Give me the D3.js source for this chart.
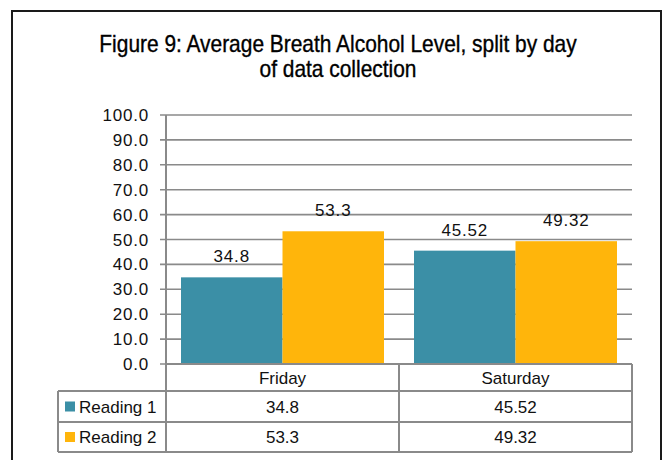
<!DOCTYPE html>
<html lang="en">
<head>
<meta charset="utf-8">
<title>Figure 9</title>
<script src="https://d3js.org/d3.v7.min.js"></script>
<style>
  * { margin:0; padding:0; box-sizing:border-box; }
  body { background:#fff; width:665px; height:460px; overflow:hidden; }
  svg { display:block; }
  .title { font-family:'Liberation Sans',Arial,sans-serif; font-size:23px; fill:#000; stroke:#000; stroke-width:0.35px; }
  .tick-label, .val-label { font-family:'Liberation Sans',Arial,sans-serif; font-size:17px; fill:#111; letter-spacing:0.8px; }
  .tbl { font-family:'Liberation Sans',Arial,sans-serif; font-size:17px; fill:#111; }
</style>
</head>
<body>
<div id="chart"></div>
<script>
const days = ['Friday', 'Saturday'];
const seriesNames = ['Reading 1', 'Reading 2'];
const reading1 = [34.8, 45.52];
const reading2 = [53.3, 49.32];
const yTicks = [0, 10, 20, 30, 40, 50, 60, 70, 80, 90, 100];
const colors = ['#3B8FA6', '#FFB50B'];

const W = 665, H = 460;
const svg = d3.select('#chart').append('svg').attr('width', W).attr('height', H);

// outer frame
svg.append('rect').attr('x', 12).attr('y', 11).attr('width', 649).attr('height', 470)
  .attr('fill', 'none').attr('stroke', '#1a1a1a').attr('stroke-width', 2);

// title, squeezed a little to mimic the condensed face
const titleLines = [
  { t: 'Figure 9: Average Breath Alcohol Level, split by day', y: 52 },
  { t: 'of data collection', y: 77 }
];
const cx = 338;
titleLines.forEach(l => {
  svg.append('text').attr('class', 'title').attr('text-anchor', 'middle')
    .attr('transform', `translate(${cx},${l.y}) scale(0.91,1)`)
    .text(l.t);
});

const plotL = 166, plotR = 632, plotT = 115, plotB = 364;
const y = d3.scaleLinear().domain([0, 100]).range([plotB, plotT]);
const x0 = d3.scaleBand().domain(days).range([plotL, plotR]);
const x1 = d3.scaleBand().domain(seriesNames).range([15, x0.bandwidth() - 15]);

const grid = '#8a8a8a';

// gridlines + ticks
svg.append('g').selectAll('line').data(yTicks).join('line')
  .attr('x1', plotL - 6).attr('x2', plotR)
  .attr('y1', d => y(d)).attr('y2', d => y(d))
  .attr('stroke', grid).attr('stroke-width', 1.6);

svg.append('g').selectAll('text').data(yTicks).join('text')
  .attr('class', 'tick-label').attr('text-anchor', 'end')
  .attr('x', 149).attr('y', d => y(d) + 6)
  .text(d => d3.format('.1f')(d));

// bars
const rows = [reading1, reading2];
const bars = [];
days.forEach((day, i) => {
  seriesNames.forEach((s, j) => bars.push({ day, s, v: rows[j][i], c: colors[j] }));
});

svg.append('g').selectAll('rect').data(bars).join('rect')
  .attr('x', d => x0(d.day) + x1(d.s))
  .attr('width', x1.bandwidth())
  .attr('y', d => y(d.v))
  .attr('height', d => y(0) - y(d.v))
  .attr('fill', d => d.c);

svg.append('g').selectAll('text').data(bars).join('text')
  .attr('class', 'val-label').attr('text-anchor', 'middle')
  .attr('x', d => x0(d.day) + x1(d.s) + x1.bandwidth() / 2)
  .attr('y', d => y(d.v) - 15)
  .text(d => d.v);

// data table
const rowT = [plotB, 391, 422, 452];
const tableL = 58;
const tg = svg.append('g');
const hline = (xa, xb, yy) => tg.append('line').attr('x1', xa).attr('x2', xb).attr('y1', yy).attr('y2', yy)
  .attr('stroke', grid).attr('stroke-width', 2);
const vline = (xx, ya, yb) => tg.append('line').attr('x1', xx).attr('x2', xx).attr('y1', ya).attr('y2', yb)
  .attr('stroke', grid).attr('stroke-width', 2);

hline(plotL, plotR, rowT[0]);
hline(tableL, plotR, rowT[1]);
hline(tableL, plotR, rowT[2]);
hline(tableL, plotR, rowT[3]);
vline(tableL, rowT[1], rowT[3]);
vline(plotL, plotT, rowT[3]);
vline(x0('Saturday'), rowT[0], rowT[3]);
vline(plotR, rowT[0], rowT[3]);

tg.selectAll('text.day').data(days).join('text')
  .attr('class', 'day tbl').attr('text-anchor', 'middle')
  .attr('x', d => x0(d) + x0.bandwidth() / 2).attr('y', (rowT[0] + rowT[1]) / 2 + 6)
  .text(d => d);

rows.forEach((vals, j) => {
  const cy = (rowT[j + 1] + rowT[j + 2]) / 2;
  tg.append('rect').attr('x', 65).attr('y', cy - 5).attr('width', 10).attr('height', 10).attr('fill', colors[j]);
  tg.append('text').attr('class', 'tbl').attr('x', 79).attr('y', cy + 6).text(seriesNames[j]);
  tg.selectAll(null).data(vals).join('text')
    .attr('class', 'tbl').attr('text-anchor', 'middle')
    .attr('x', (d, i) => x0(days[i]) + x0.bandwidth() / 2).attr('y', cy + 6)
    .text(d => d);
});
</script>
</body>
</html>
